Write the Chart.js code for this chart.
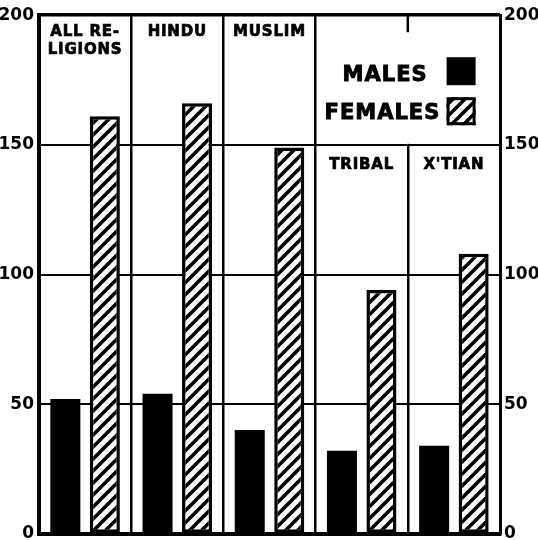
<!DOCTYPE html>
<html>
<head>
<meta charset="utf-8">
<script src="https://cdn.jsdelivr.net/npm/chart.js@4"></script>
<style>
  html, body { margin: 0; padding: 0; background: #fff; overflow: hidden; }
  #wrap { width: 538px; height: 540px; overflow: hidden; }
</style>
</head>
<body>
<div id="wrap"><canvas id="chart" width="538" height="549"></canvas></div>
<script>
// religion groups and the per-group values
const categories = ['ALL RELIGIONS', 'HINDU', 'MUSLIM', 'TRIBAL', "X'TIAN"];
const headerLines = [['ALL RE-', 'LIGIONS'], ['HINDU'], ['MUSLIM'], ['TRIBAL'], ["X'TIAN"]];
const males = [52, 54, 40, 32, 34];
const females = [161, 166, 149, 94, 108];
const yTicks = [0, 50, 100, 150, 200];

const FONT = '"DejaVu Sans", sans-serif';

// diagonal hatching for the female bars
function makeHatch() {
    const size = 12;
    const c = document.createElement('canvas');
    c.width = size;
    c.height = size;
    const g = c.getContext('2d');
    g.fillStyle = '#fff';
    g.fillRect(0, 0, size, size);
    g.strokeStyle = '#000';
    g.lineWidth = 3.6;
    g.beginPath();
    g.moveTo(-2, size + 2);
    g.lineTo(size + 2, -2);
    g.moveTo(-3, 3);
    g.lineTo(3, -3);
    g.moveTo(size - 3, size + 3);
    g.lineTo(size + 3, size - 3);
    g.stroke();
    const ctx = document.getElementById('chart').getContext('2d');
    return ctx.createPattern(c, 'repeat');
}
const hatch = makeHatch();

// bold text with a thin outline so it reads heavier
function heavyText(ctx, t, x, y) {
    ctx.fillText(t, x, y);
    ctx.strokeText(t, x, y);
}

// headers above each group and the key box in the top right
const decorations = {
    id: 'decorations',
    afterDraw(chart) {
        const ctx = chart.ctx;
        const x = chart.scales.x;
        const y = chart.scales.y;
        const area = chart.chartArea;
        const step = (area.right - area.left) / categories.length;
        const top = y.getPixelForValue(200);
        const y150 = y.getPixelForValue(150);

        ctx.save();

        // clear the grid inside the key box
        const boxLeft = area.left + step * 3;
        ctx.fillStyle = '#fff';
        ctx.fillRect(boxLeft + 2, top + 2, area.right - boxLeft - 4, y150 - top - 3);
        ctx.strokeStyle = '#000';
        ctx.lineWidth = 2.5;
        ctx.beginPath();
        ctx.moveTo(area.left + step * 4, top);
        ctx.lineTo(area.left + step * 4, top + 17);
        ctx.stroke();

        // group headers
        ctx.fillStyle = '#000';
        ctx.strokeStyle = '#000';
        ctx.lineWidth = 0.7;
        ctx.textAlign = 'center';
        ctx.textBaseline = 'alphabetic';
        ctx.font = 'bold 15px ' + FONT;
        ctx.letterSpacing = '0.8px';
        headerLines.forEach((lines, i) => {
            const cx = x.getPixelForValue(i);
            const base = i < 3 ? top + 21 : y150 + 24;
            lines.forEach((t, j) => heavyText(ctx, t, cx, base + j * 18));
        });

        // key
        ctx.textAlign = 'left';
        ctx.font = 'bold 21px ' + FONT;
        ctx.letterSpacing = '1px';
        ctx.lineWidth = 0.9;
        heavyText(ctx, 'MALES', boxLeft + 27, top + 66);
        heavyText(ctx, 'FEMALES', boxLeft + 9, top + 104);
        const sx = boxLeft + 131;
        ctx.fillRect(sx, top + 42, 29, 28);
        ctx.fillStyle = hatch;
        ctx.fillRect(sx, top + 82, 29, 28);
        ctx.lineWidth = 3;
        ctx.strokeRect(sx + 1.5, top + 83.5, 26, 25);

        ctx.restore();
    }
};

const tickFont = { family: FONT, size: 17, weight: 'bold' };

new Chart(document.getElementById('chart'), {
    type: 'bar',
    data: {
        labels: categories,
        datasets: [
            {
                label: 'MALES',
                data: males,
                backgroundColor: '#000',
                borderWidth: 0,
                categoryPercentage: 0.857,
                barPercentage: 0.76
            },
            {
                label: 'FEMALES',
                data: females,
                backgroundColor: hatch,
                borderColor: '#000',
                borderWidth: 3.5,
                borderSkipped: false,
                categoryPercentage: 0.857,
                barPercentage: 0.76
            }
        ]
    },
    options: {
        responsive: false,
        devicePixelRatio: 1,
        animation: false,
        layout: { padding: { top: 8, bottom: 0, left: 0, right: 0 } },
        plugins: {
            legend: { display: false },
            tooltip: { enabled: false }
        },
        scales: {
            x: {
                ticks: { display: false },
                afterFit: scale => { scale.height = 0; },
                grid: {
                    offset: true,
                    color: '#000',
                    lineWidth: 2.5,
                    drawTicks: false
                },
                border: { color: '#000', width: 4 }
            },
            y: {
                position: 'left',
                min: 0,
                max: 200,
                afterBuildTicks: scale => { scale.ticks = yTicks.map(v => ({ value: v })); },
                afterFit: scale => { scale.width = 39; },
                ticks: { color: '#000', font: tickFont, padding: 5 },
                grid: {
                    color: '#000',
                    lineWidth: ctx => (ctx.tick && ctx.tick.value === 200 ? 3.5 : 2),
                    drawTicks: false
                },
                border: { color: '#000', width: 4 }
            },
            y2: {
                position: 'right',
                min: 0,
                max: 200,
                afterBuildTicks: scale => { scale.ticks = yTicks.map(v => ({ value: v })); },
                afterFit: scale => { scale.width = 38; },
                ticks: { color: '#000', font: tickFont, padding: 4 },
                grid: { display: false, drawTicks: false },
                border: { color: '#000', width: 3 }
            }
        }
    },
    plugins: [decorations]
});
</script>
</body>
</html>
